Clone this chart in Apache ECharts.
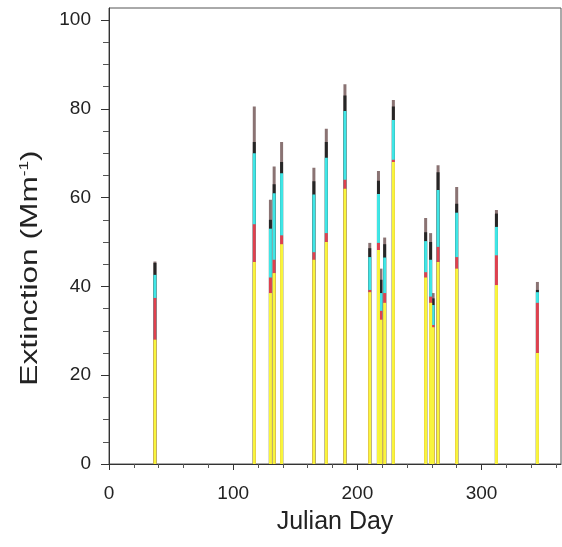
<!DOCTYPE html>
<html>
<head>
<meta charset="utf-8">
<script src="https://cdn.jsdelivr.net/npm/echarts@6/dist/echarts.min.js"></script>
<style>html,body{margin:0;padding:0;background:#fff}#c{width:562px;height:547px}</style>
</head>
<body>
<div id="c"></div>
<script>
// Julian day of each sample
const days = [37, 117, 130, 133, 139, 165, 175, 190, 210, 217, 219, 222, 229, 255, 259, 261, 265, 280, 312, 345];
// Extinction components (Mm^-1), stacked bottom to top
const yellowVals = [28, 45.5, 38.5, 43, 49.5, 46, 50, 62, 38.7, 48.2, 32.5, 36.3, 68, 42, 36.3, 30.8, 45.5, 44, 40.3, 25];
const redVals    = [9.4, 8.5, 3.5, 3, 2, 1.7, 2, 2, 0.5, 1.6, 2, 2.2, 0.5, 1.2, 1.4, 0.5, 3.4, 2.6, 6.7, 11.3];
const cyanVals   = [5.2, 16, 11, 15, 14, 13, 17, 15.5, 7.4, 11, 4, 8, 9, 7, 8.3, 4.5, 12.8, 10, 6.4, 2.4];
const blackVals  = [2.7, 2.5, 2, 2, 2.5, 3, 3.5, 3.5, 2, 3, 3, 3, 3, 2, 4, 1.5, 4, 2, 3, 0.5];
const grayVals   = [0.3, 8, 4.5, 4, 4.5, 3, 3, 2.5, 1.2, 2.2, 2.5, 1.5, 1.5, 3.2, 2, 1.2, 1.6, 3.8, 0.8, 1.8];
const xTicks = [0, 100, 200, 300];
const yTicks = [0, 20, 40, 60, 80, 100];

const comps = [
  {vals: yellowVals, color: '#f8f53c'},
  {vals: redVals, color: '#e0404e'},
  {vals: cyanVals, color: '#3fe6e6'},
  {vals: blackVals, color: '#262626'},
  {vals: grayVals, color: '#8a7373'}
];
// cumulative tops for each component (stacking)
const cum = [];
comps.forEach((c, k) => {
  cum.push(c.vals.map((v, i) => v + (k > 0 ? cum[k - 1][i] : 0)));
});
// draw tallest (cumulative) first so that lower components overlay it
const series = comps.map((c, k) => ({
  type: 'bar', barWidth: 3, barGap: '-100%',
  data: days.map((d, i) => [d, +cum[k][i].toFixed(2)]),
  itemStyle: {color: c.color},
  z: 10 - k
})).reverse();

const chart = echarts.init(document.getElementById('c'));
const axisColor = '#333';
chart.setOption({
  animation: false,
  grid: {left: 109, right: 1, top: 8, bottom: 83, show: true, borderColor: '#555', borderWidth: 1, outerBoundsMode: 'none'},
  graphic: [{
    type: 'text', x: 30, y: 268, rotation: Math.PI / 2, scaleX: 1.32,
    style: {
      text: 'Extinction (Mm{sup|-1})', align: 'center', verticalAlign: 'middle',
      fontFamily: 'Liberation Sans', fontSize: 24, fill: '#222',
      rich: {sup: {fontFamily: 'Liberation Sans', fontSize: 13, verticalAlign: 'top', padding: [0, 0, 11, 0], fill: '#222'}}
    }
  }],
  xAxis: {
    type: 'value', min: 0, max: 364, interval: 100,
    name: 'Julian Day', nameLocation: 'middle', nameGap: 46,
    nameTextStyle: {fontFamily: 'Liberation Sans', fontSize: 25, color: '#222'},
    axisLine: {show: true, onZero: false, lineStyle: {color: axisColor}},
    axisTick: {show: true, length: 6, customValues: xTicks, lineStyle: {color: axisColor}},
    minorTick: {show: true, splitNumber: 5, length: 4, lineStyle: {color: '#555'}},
    axisLabel: {customValues: xTicks, margin: 20, fontFamily: 'Liberation Sans', fontSize: 19, color: '#222'},
    splitLine: {show: false}
  },
  yAxis: {
    type: 'value', min: 0, max: 102.7, interval: 20,
    axisLine: {show: true, lineStyle: {color: axisColor}},
    axisTick: {show: true, length: 8, customValues: yTicks, lineStyle: {color: axisColor}},
    minorTick: {show: true, splitNumber: 4, length: 6, lineStyle: {color: '#555'}},
    axisLabel: {customValues: yTicks, margin: 18, fontFamily: 'Liberation Sans', fontSize: 19, color: '#222'},
    splitLine: {show: false}
  },
  series: series
});
</script>
</body>
</html>
